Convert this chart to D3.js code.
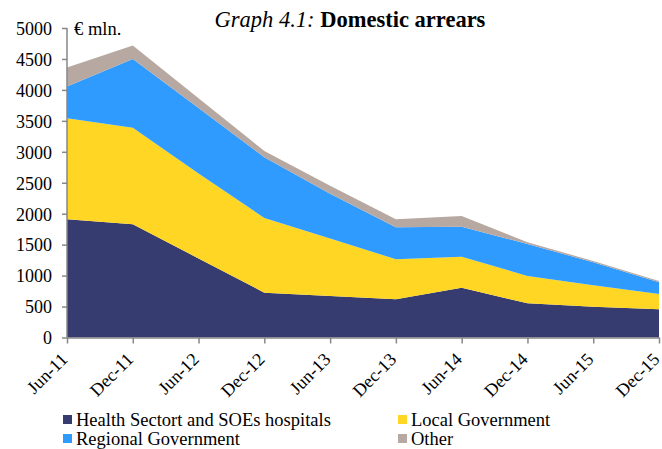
<!DOCTYPE html>
<html>
<head>
<meta charset="utf-8">
<script src="https://cdn.jsdelivr.net/npm/d3@7"></script>
<style>
  body { margin: 0; background: #fff; }
</style>
</head>
<body>
<div id="chart"></div>
<script>
// data (€ mln.)
var periods = ["Jun-11","Dec-11","Jun-12","Dec-12","Jun-13","Dec-13","Jun-14","Dec-14","Jun-15","Dec-15"];
var health   = [1910, 1830, 1277, 724, 670, 617, 805, 553, 498, 456];
var local    = [1632, 1560, 1373, 1207, 930, 647, 501, 441, 346, 247];
var regional = [511, 1110, 1059, 981, 724, 517, 484, 517, 371, 189];
var other    = [307, 216, 155, 102, 126, 129, 173, 27, 21, 21];
var yTicks = [0, 500, 1000, 1500, 2000, 2500, 3000, 3500, 4000, 4500, 5000];

var seriesNames = ["Health Sectort and SOEs hospitals", "Local Government", "Regional Government", "Other"];
var colors = ["#363b70", "#ffd623", "#2f9bff", "#b7a9a2"];
var serif = "'Liberation Serif', 'DejaVu Serif', serif";

var width = 662, height = 449;
var svg = d3.select("#chart").append("svg")
  .attr("width", width)
  .attr("height", height);

// build rows for the stack
var rows = periods.map(function(p, i) {
  return { period: p, s0: health[i], s1: local[i], s2: regional[i], s3: other[i] };
});
var keys = ["s0", "s1", "s2", "s3"];
var stacked = d3.stack().keys(keys)(rows);

var x = d3.scalePoint().domain(periods).range([67, 659]);
var y = d3.scaleLinear().domain([0, 5000]).range([337.5, 28]);

var area = d3.area()
  .x(function(d) { return x(d.data.period); })
  .y0(function(d) { return y(d[0]); })
  .y1(function(d) { return y(d[1]); });

svg.selectAll(".layer")
  .data(stacked)
  .enter().append("path")
    .attr("class", "layer")
    .attr("d", area)
    .attr("fill", function(d, i) { return colors[i]; });

// y axis
var yAxis = svg.append("g")
  .attr("transform", "translate(67,0)")
  .call(d3.axisLeft(y).tickValues(yTicks).tickSize(5).tickPadding(10).tickFormat(d3.format("d")));
yAxis.selectAll("text").style("font-size", "18px").attr("dy", "0.35em");
yAxis.selectAll("line, path").attr("stroke", "#878787").attr("stroke-width", 1.5);
yAxis.select(".domain").attr("d", "M0,28V337.5");

// x axis
var xAxis = svg.append("g")
  .attr("transform", "translate(0,337.5)")
  .call(d3.axisBottom(x).tickSize(6).tickSizeOuter(0));
xAxis.selectAll("line, path").attr("stroke", "#878787").attr("stroke-width", 1.5);
xAxis.selectAll("text")
  .style("font-size", "18px")
  .attr("text-anchor", "end")
  .attr("dy", 0)
  .attr("transform", "translate(1,23) rotate(-45)")
  .attr("x", 0).attr("y", 0);

// title
var title = svg.append("text")
  .attr("x", 350).attr("y", 27)
  .attr("text-anchor", "middle")
  .style("font-size", "22.5px");
title.append("tspan").style("font-style", "italic").text("Graph 4.1: ");
title.append("tspan").style("font-weight", "bold").text("Domestic arrears");

svg.append("text")
  .attr("x", 74).attr("y", 35)
  .style("font-size", "18.5px")
  .text("€ mln.");

// legend
var legendPos = [[63, 420], [398, 420], [63, 439], [398, 439]];
var legend = svg.selectAll(".legend")
  .data(seriesNames)
  .enter().append("g")
    .attr("class", "legend")
    .attr("transform", function(d, i) { return "translate(" + legendPos[i][0] + "," + legendPos[i][1] + ")"; });
legend.append("rect")
  .attr("x", 0).attr("y", -5)
  .attr("width", 9).attr("height", 9)
  .attr("fill", function(d, i) { return colors[i]; });
legend.append("text")
  .attr("x", 13).attr("y", 0)
  .attr("dy", "0.35em")
  .style("font-size", "18.5px")
  .text(function(d) { return d; });

// one serif face for every label
svg.selectAll("text").style("font-family", serif).attr("fill", "#000");
</script>
</body>
</html>
